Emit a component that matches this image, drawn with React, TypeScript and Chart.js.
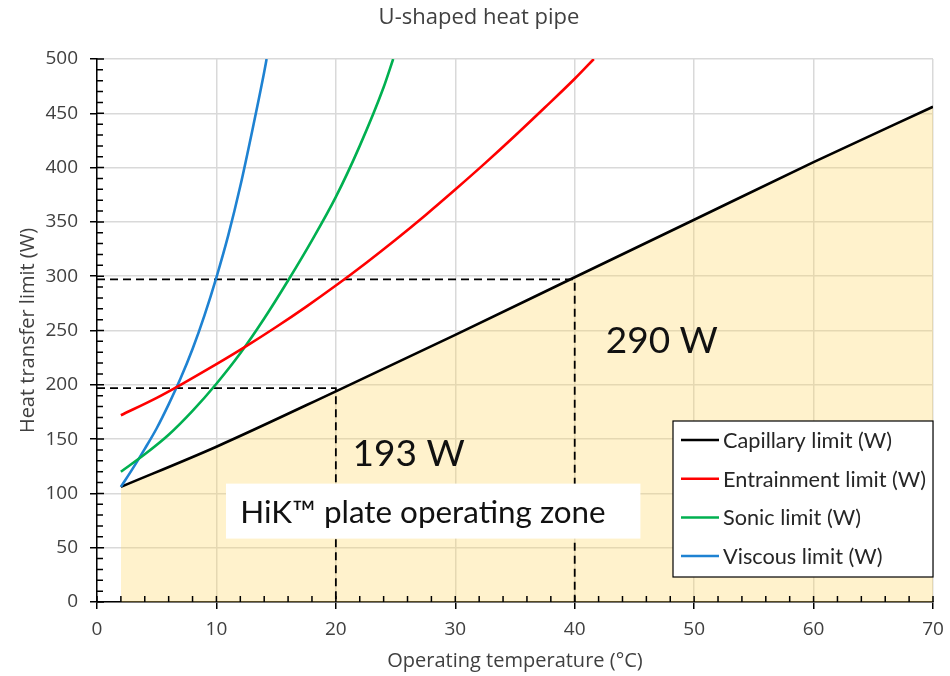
import React, { useEffect, useRef } from "react";
import { Chart, registerables } from "chart.js";

Chart.register(...registerables);

// ---- data ----
const capillaryX = [2, 10, 20, 30, 40, 50, 60, 70];
const capillaryY = [106, 143, 194, 246, 299, 352, 405, 456];

const entrainmentX = [2, 5, 7, 10, 12.5, 15, 17.5, 20, 22.5, 25, 27.5, 30, 32.5, 35, 37.5, 40, 41.6];
const entrainmentY = [172, 188, 200, 219, 235.6, 253.2, 271.8, 291.4, 312, 333.6, 356.2, 379.8, 404.1, 429.3, 455.3, 481.8, 500];

const sonicX = [2, 4, 6, 8, 10, 12, 14, 16, 18, 20, 22, 24, 24.8];
const sonicY = [120, 136, 154, 176, 201, 229, 261, 296, 333, 373, 420, 474, 500];

const viscousX = [2, 3, 4, 5, 6, 7, 8, 9, 10, 11, 12, 13, 14, 14.2];
const viscousY = [106, 123, 141, 160, 182, 206, 233, 264, 299, 338, 383, 434, 488, 500];

// reference (dashed) lines: operating temperature -> capillary limit
const refTemps = [20, 40];
const refLimits = [197, 297];

const seriesLabels = [
  "Capillary limit (W)",
  "Entrainment limit (W)",
  "Sonic limit (W)",
  "Viscous limit (W)",
];
const seriesColors = ["#000000", "#FF0000", "#00B050", "#1E82D2"];

const xTicks = [0, 10, 20, 30, 40, 50, 60, 70];
const yTicks = [0, 50, 100, 150, 200, 250, 300, 350, 400, 450, 500];

const chartTitle = "U-shaped heat pipe";
const xTitle = "Operating temperature (°C)";
const yTitle = "Heat transfer limit (W)";
const label193 = "193 W";
const label290 = "290 W";
const zoneLabel = "HiK™ plate operating zone";

const pts = (xs: number[], ys: number[]) => xs.map((x, i) => ({ x, y: ys[i] }));

const TEXT = "#404040";

const decorPlugin = {
  id: "decor",
  afterDraw(chart: any) {
    const ctx = chart.ctx as CanvasRenderingContext2D;
    const xs = chart.scales.x;
    const ys = chart.scales.y;
    const area = chart.chartArea;
    ctx.save();

    // inner parts of major ticks + minor ticks
    ctx.strokeStyle = "#000";
    ctx.lineWidth = 1.5;
    ctx.beginPath();
    for (let v = 0; v <= 500; v += 10) {
      const py = ys.getPixelForValue(v);
      const len = v % 50 === 0 ? 7 : 6;
      ctx.moveTo(area.left, py);
      ctx.lineTo(area.left + len, py);
    }
    for (let v = 0; v <= 70; v += 2) {
      const px = xs.getPixelForValue(v);
      ctx.moveTo(px, area.bottom);
      ctx.lineTo(px, area.bottom - 6);
    }
    ctx.stroke();

    // title
    ctx.fillStyle = TEXT;
    ctx.font = "22px 'Open Sans'";
    ctx.textAlign = "center";
    ctx.textBaseline = "middle";
    ctx.fillText(chartTitle, 479, 18);

    // operating zone box
    const bx1 = xs.getPixelForValue(10.8);
    const bx2 = xs.getPixelForValue(45.5);
    const by1 = ys.getPixelForValue(109);
    const by2 = ys.getPixelForValue(58.4);
    ctx.fillStyle = "#FFFFFF";
    ctx.fillRect(bx1, by1, bx2 - bx1, by2 - by1);
    ctx.fillStyle = "#111";
    ctx.textAlign = "left";
    ctx.textBaseline = "alphabetic";
    ctx.font = "31.4px Lato";
    ctx.fillText(zoneLabel, xs.getPixelForValue(12.0), ys.getPixelForValue(73));

    // value labels
    ctx.font = "37px Lato";
    ctx.fillText(label193, xs.getPixelForValue(21.4), ys.getPixelForValue(125));
    ctx.fillText(label290, xs.getPixelForValue(42.6), ys.getPixelForValue(229));

    // legend
    const lw = 260;
    const lh = 156;
    const lx = area.right - lw;
    const ly = area.bottom - 25 - lh;
    ctx.fillStyle = "#FFFFFF";
    ctx.fillRect(lx, ly, lw, lh);
    ctx.strokeStyle = "#000";
    ctx.lineWidth = 1.2;
    ctx.strokeRect(lx, ly, lw, lh);
    ctx.font = "21.7px Lato";
    ctx.textBaseline = "middle";
    seriesLabels.forEach((lab, i) => {
      const cy = ly + 19 + i * 38.7;
      ctx.strokeStyle = seriesColors[i];
      ctx.lineWidth = 2.5;
      ctx.beginPath();
      ctx.moveTo(lx + 8, cy);
      ctx.lineTo(lx + 46, cy);
      ctx.stroke();
      ctx.fillStyle = "#262626";
      ctx.fillText(lab, lx + 50, cy + 1);
    });

    ctx.restore();
  },
};

export default function App() {
  const canvasRef = useRef<HTMLCanvasElement | null>(null);

  useEffect(() => {
    const canvas = canvasRef.current;
    if (!canvas) return;

    const refSets = refTemps.map((t, i) => ({
      label: "ref" + i,
      data: [
        { x: 0, y: refLimits[i] },
        { x: t, y: refLimits[i] },
        { x: t, y: 0 },
      ],
      borderColor: "#000",
      borderWidth: 1.8,
      borderDash: [8, 5],
      pointRadius: 0,
      fill: false,
      tension: 0,
      order: 5,
    }));

    const curve = (xs: number[], ys: number[], i: number, extra: any = {}) => ({
      label: seriesLabels[i],
      data: pts(xs, ys),
      borderColor: seriesColors[i],
      borderWidth: 2.6,
      pointRadius: 0,
      cubicInterpolationMode: "monotone",
      fill: false,
      order: 1,
      ...extra,
    });

    const axisFont = { family: "'Open Sans'", size: 19 };
    const titleFont = { family: "'Open Sans'", size: 20 };

    const chart = new Chart(canvas, {
      type: "line",
      data: {
        datasets: [
          curve(capillaryX, capillaryY, 0, {
            fill: "origin",
            backgroundColor: "rgba(255, 217, 102, 0.335)",
            order: 6,
          }),
          ...refSets,
          curve(entrainmentX, entrainmentY, 1),
          curve(sonicX, sonicY, 2),
          curve(viscousX, viscousY, 3),
        ] as any,
      },
      options: {
        responsive: false,
        animation: false,
        layout: { padding: { top: 59, right: 17, left: 0, bottom: 0 } },
        plugins: {
          legend: { display: false },
          title: { display: false },
          tooltip: { enabled: false },
        },
        scales: {
          x: {
            type: "linear",
            min: 0,
            max: 70,
            afterBuildTicks: (s: any) => {
              s.ticks = xTicks.map((v) => ({ value: v }));
            },
            afterFit: (s: any) => {
              s.height = 74;
              s.paddingRight = 0;
              s.paddingLeft = 0;
            },
            grid: {
              color: "#D9D9D9",
              lineWidth: 1.5,
              tickColor: "#000",
              tickLength: 7,
              tickWidth: 1.5,
            },
            border: { display: true, color: "#000", width: 1.5 },
            ticks: { color: TEXT, font: axisFont, padding: 9 },
            title: {
              display: true,
              text: xTitle,
              color: TEXT,
              font: titleFont,
              padding: { top: 0, bottom: 3 },
            },
          },
          y: {
            type: "linear",
            min: 0,
            max: 500,
            afterBuildTicks: (s: any) => {
              s.ticks = yTicks.map((v) => ({ value: v }));
            },
            afterFit: (s: any) => {
              s.width = 97;
            },
            grid: {
              color: "#D9D9D9",
              lineWidth: 1.5,
              tickColor: "#000",
              tickLength: 7,
              tickWidth: 1.5,
            },
            border: { display: true, color: "#000", width: 1.5 },
            ticks: { color: TEXT, font: axisFont, padding: 12 },
            title: {
              display: true,
              text: yTitle,
              color: TEXT,
              font: titleFont,
              padding: { top: 16, bottom: 0 },
            },
          },
        },
      },
      plugins: [decorPlugin],
    } as any);

    return () => chart.destroy();
  }, []);

  return (
    <div style={{ position: "fixed", left: 0, top: 0, width: 950, height: 676, background: "#fff" }}>
      <canvas ref={canvasRef} width={950} height={676} style={{ width: 950, height: 676, display: "block" }} />
    </div>
  );
}
